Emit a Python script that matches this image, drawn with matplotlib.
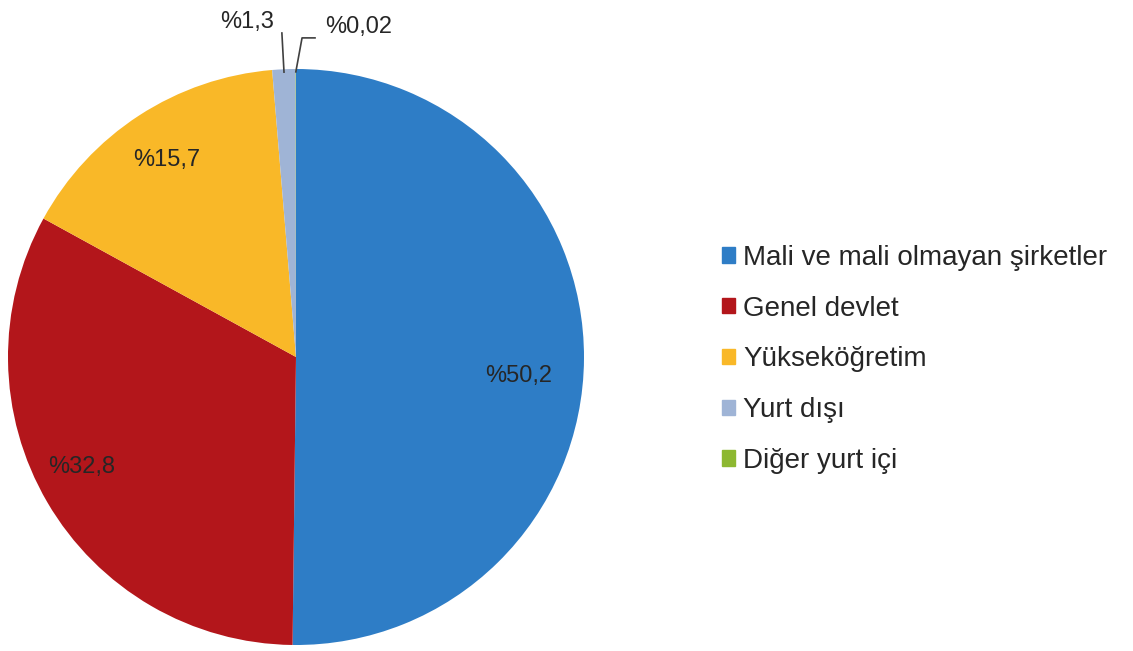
import matplotlib
matplotlib.use("Agg")
import matplotlib.pyplot as plt
import numpy as np

plt.rcParams['font.family'] = ['Liberation Sans', 'DejaVu Sans']

# Shares of R&D funding by source (%)
categories = ["Mali ve mali olmayan şirketler", "Genel devlet", "Yükseköğretim",
              "Yurt dışı", "Diğer yurt içi"]
shares = [50.2, 32.8, 15.7, 1.3, 0.02]
value_labels = ["%50,2", "%32,8", "%15,7", "%1,3", "%0,02"]
colors = ["#2E7DC6", "#B3161B", "#F9B828", "#9FB4D6", "#8DB831"]

W, H = 1133, 651
fig = plt.figure(figsize=(W / 100, H / 100), dpi=100)

# pie axes: circle of radius 288 px centred at (296, 357)
cx, cy, R = 296, 357, 288
ax = fig.add_axes([(cx - R) / W, (H - cy - R) / H, 2 * R / W, 2 * R / H])
wedges, _ = ax.pie(shares, colors=colors, startangle=90, counterclock=False,
                   radius=1.0, wedgeprops=dict(linewidth=0))
ax.set_xlim(-1, 1)
ax.set_ylim(-1, 1)
ax.set_aspect('equal')
ax.axis('off')

txt_kw = dict(fontsize=17, color="#262626", ha='center', va='center')

# labels placed inside the larger wedges
inside_pos = {0: (0.774, -0.066), 1: (-0.743, -0.382), 2: (-0.448, 0.684)}
for i, (x, y) in inside_pos.items():
    ax.text(x, y, value_labels[i], **txt_kw)

# small wedges: labels above the pie with leader lines
def mid_angle(w):
    return np.deg2rad((w.theta1 + w.theta2) / 2)

a3 = mid_angle(wedges[3])
ax.plot([0.99 * np.cos(a3), -0.049], [0.99 * np.sin(a3), 1.125],
        color="#404040", lw=1.2, clip_on=False)
ax.text(-0.170, 1.163, value_labels[3], **txt_kw)

a4 = mid_angle(wedges[4])
ax.plot([0.99 * np.cos(a4), 0.021, 0.066], [0.99 * np.sin(a4), 1.108, 1.108],
        color="#404040", lw=1.2, clip_on=False)
ax.text(0.219, 1.146, value_labels[4], **txt_kw)

# legend on the right
handles = [plt.Rectangle((0, 0), 1, 1, color=c) for c in colors]
leg = fig.legend(handles, categories, loc='upper left',
                 bbox_to_anchor=(722 / W, 1 - 245 / H),
                 frameon=False, fontsize=20, handlelength=0.47, handleheight=0.47,
                 handletextpad=0.3, labelspacing=0.89, borderaxespad=0,
                 borderpad=0)
for t in leg.get_texts():
    t.set_color("#262626")

fig.savefig("out.png", dpi=100, facecolor="white")
